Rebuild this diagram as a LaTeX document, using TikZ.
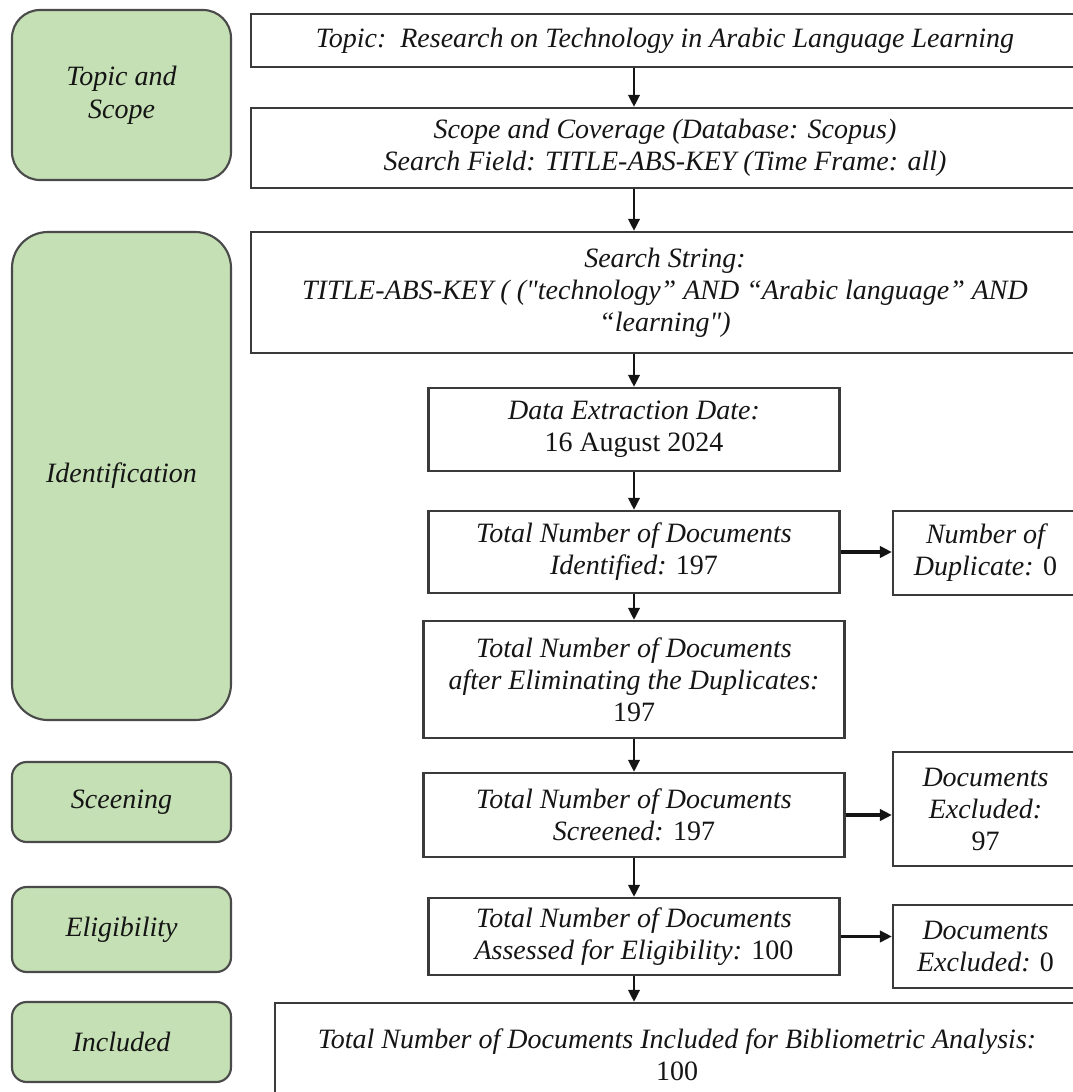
\documentclass[tikz,border=0pt]{standalone}
\usepackage{fontspec}
\newfontfamily\cam{Liberation Serif}
\usetikzlibrary{arrows.meta}
\definecolor{gfill}{HTML}{C5E0B4}
\definecolor{gbd}{HTML}{4A4A4A}
\definecolor{bd}{HTML}{3A3A3A}
\definecolor{txt}{HTML}{151515}
\newcommand\rn[1]{{\upshape #1}}
\tikzset{
  phase/.style={draw=gbd, fill=gfill, line width=1.6pt, align=center, inner sep=0pt, text=txt,
    font=\cam\itshape\fontsize{21}{24.5}\selectfont},
  box/.style={draw=bd, fill=white, line width=1.7pt, align=center, inner sep=0pt, text=txt,
    font=\cam\itshape\fontsize{21}{24}\selectfont},
  arr/.style={-{Triangle[length=9pt,width=8.5pt]}, line width=2pt, draw=black!92}
}
\begin{document}
\begin{tikzpicture}[x=0.75pt,y=-0.75pt]
\useasboundingbox (0,0) rectangle (1073,1092);
\clip (0,0) rectangle (1073,1092);
% phase boxes
\node[phase, rounded corners=21pt, minimum width=164.25pt, minimum height=127.5pt] (tas) at (121.5,95) {Topic and\\Scope};
\node[phase, rounded corners=27pt, minimum width=164.25pt, minimum height=366pt] (idf) at (121.5,476) {Identification};
\node[phase, rounded corners=11pt, minimum width=164.25pt, minimum height=60pt] (scr) at (121.5,802) {Sceening};
\node[phase, rounded corners=11pt, minimum width=164.25pt, minimum height=63.75pt] (elgp) at (121.5,929.5) {Eligibility};
\node[phase, rounded corners=11pt, minimum width=164.25pt, minimum height=60pt] (inc) at (121.5,1042) {Included};
% process boxes
\node[box, minimum width=621pt, minimum height=39.75pt] (topic) at (665,40.5) {Topic:\ \ Research on Technology in Arabic Language Learning};
\node[box, minimum width=621pt, minimum height=60pt] (scope) at (665,148) {Scope and Coverage (Database: Scopus)\\Search Field: TITLE-ABS-KEY (Time Frame: all)};
\node[box, minimum width=621pt, minimum height=90.75pt] (search) at (665,292.5) {Search String:\\TITLE-ABS-KEY ( ("technology” AND “Arabic language” AND\\“learning")};
\node[box, minimum width=308.25pt, minimum height=62.25pt] (date) at (634,429.5) {Data Extraction Date:\\\rn{16 August 2024}};
\node[box, minimum width=308.25pt, minimum height=61.5pt] (ident) at (634,552) {Total Number of Documents\\Identified: \rn{197}};
\node[box, minimum width=138.75pt, minimum height=63pt] (dup) at (985.5,553) {Number of\\Duplicate: \rn{0}};
\node[box, minimum width=315.75pt, minimum height=87.75pt] (after) at (634,679.5) {Total Number of Documents\\after Eliminating the Duplicates:\\\rn{197}};
\node[box, minimum width=315.75pt, minimum height=63pt] (screened) at (634,815) {Total Number of Documents\\Screened: \rn{197}};
\node[box, minimum width=138.75pt, minimum height=85.5pt] (excla) at (985.5,809) {Documents\\Excluded:\\\rn{97}};
\node[box, minimum width=308.25pt, minimum height=57.75pt] (elig) at (634,936.5) {Total Number of Documents\\Assessed for Eligibility: \rn{100}};
\node[box, minimum width=138.75pt, minimum height=62.25pt] (exclb) at (985.5,946.5) {Documents\\Excluded: \rn{0}};
\node[box, minimum width=603pt, minimum height=78pt] (included) at (677,1055) {Total Number of Documents Included for Bibliometric Analysis:\\\rn{100}};
% connectors
\draw[arr] (topic.south -| date.north) -- (scope.north -| date.north);
\draw[arr] (scope.south -| date.north) -- (search.north -| date.north);
\draw[arr] (search.south -| date.north) -- (date.north);
\draw[arr] (date) -- (ident);
\draw[arr] (ident) -- (after);
\draw[arr] (after) -- (screened);
\draw[arr] (screened) -- (elig);
\draw[arr] (elig.south) -- (included.north -| elig.south);
\draw[arr, line width=2.4pt] (ident.east) -- (ident.east -| dup.west);
\draw[arr, line width=2.4pt] (screened.east) -- (screened.east -| excla.west);
\draw[arr, line width=2.4pt] (elig.east) -- (elig.east -| exclb.west);
\end{tikzpicture}
\end{document}
